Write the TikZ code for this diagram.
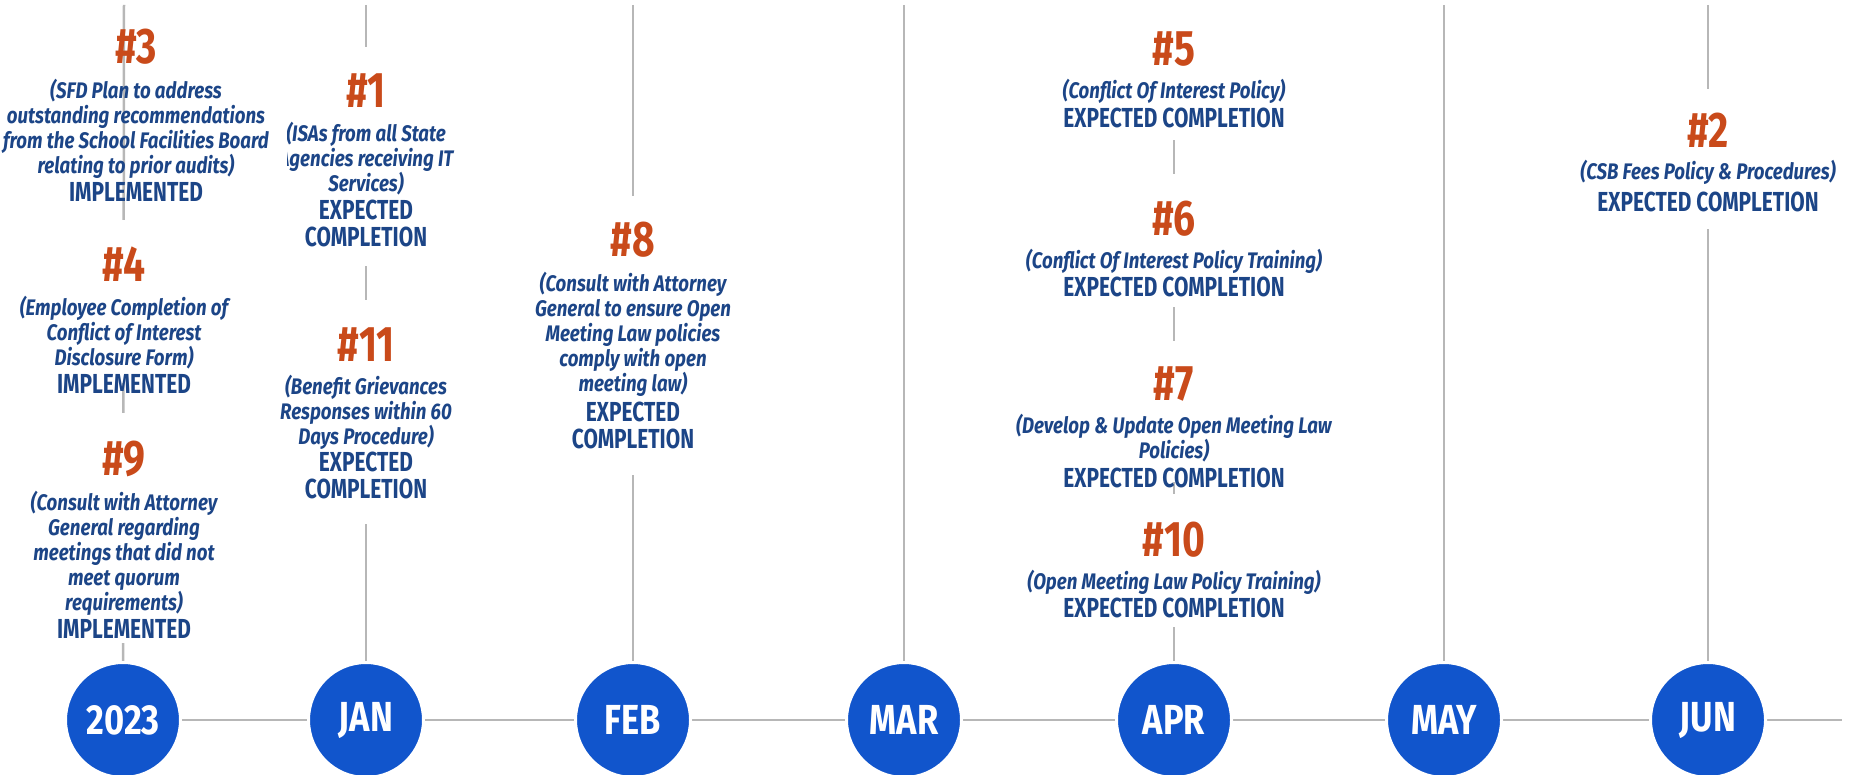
\documentclass[tikz,border=0pt]{standalone}
\usepackage{fontspec}
\setmainfont{Fira Sans}[FakeStretch=0.76]
\newfontfamily\numfont{Fira Sans}[FakeStretch=0.78]
\newfontfamily\descfont{Fira Sans}[FakeStretch=0.83]
\newfontfamily\monthfont{Fira Sans}[FakeStretch=0.82]
\usetikzlibrary{positioning,backgrounds}

\definecolor{numred}{HTML}{C94A1A}
\definecolor{navy}{HTML}{1C4587}
\definecolor{monthblue}{HTML}{1155CC}
\definecolor{rulegray}{HTML}{B7B7B7}

\tikzset{
  num/.style={text=numred, inner sep=0pt, anchor=south, font=\numfont\bfseries\fontsize{50}{50}\selectfont},
  descr/.style={text=navy, inner sep=0pt, align=center, font=\descfont\bfseries\itshape\fontsize{22.5}{25}\selectfont},
  status/.style={text=navy, inner sep=0pt, align=center, font=\bfseries\fontsize{27.5}{27}\selectfont},
  month/.style={circle, fill=monthblue, draw=white, line width=3pt, minimum size=115pt, inner sep=0pt, text=white, font=\monthfont\bfseries\fontsize{42}{42}\selectfont},
  stem/.style={draw=rulegray, line width=2.5pt},
}

\begin{document}
\begin{tikzpicture}[x=1pt, y=-1pt]
\useasboundingbox (0,0) rectangle (1858,775);

% months
\node[month] (y2023) at (123,720) {2023};
\node[month] (jan) at (366,720) {JAN};
\node[month] (feb) at (633,720) {FEB};
\node[month] (mar) at (904,720) {MAR};
\node[month] (apr) at (1174,720) {APR};
\node[month] (may) at (1444,720) {MAY};
\node[month] (jun) at (1708,720) {JUN};
\coordinate (lend) at (64,720);
\coordinate (rend) at (1842,720);

% 2023
\node[num] (n3) at (136,65) {\#3};
\node[descr, below=14pt of n3] (d3) {(SFD Plan to address\\outstanding recommendations\\from the School Facilities Board\\relating to prior audits)};
\node[status, below=3pt of d3] (s3) {IMPLEMENTED};

\node[num] (n4) at (124,282) {\#4};
\node[descr, below=14pt of n4] (d4) {(Employee Completion of\\Conflict of Interest\\Disclosure Form)};
\node[status, below=5pt of d4] (s4) {IMPLEMENTED};

\node[num] (n9) at (124,477) {\#9};
\node[descr, below=14pt of n9] (d9) {(Consult with Attorney\\General regarding\\meetings that did not\\meet quorum\\requirements)};
\node[status, below=3pt of d9] (s9) {IMPLEMENTED};

% JAN
\node[num] (n1) at (366,108) {\#1};
\begin{scope}
\clip (287,100) rectangle (480,260);
\node[descr, below=14pt of n1] (d1) {(ISAs from all State\\Agencies receiving IT\\Services)};
\end{scope}
\node[status, below=4pt of d1] (s1) {EXPECTED\\COMPLETION};

\node[num] (n11) at (366,362) {\#11};
\node[descr, below=13pt of n11] (d11) {(Benefit Grievances\\Responses within 60\\Days Procedure)};
\node[status, below=2pt of d11] (s11) {EXPECTED\\COMPLETION};

% FEB
\node[num] (n8) at (633,258) {\#8};
\node[descr, below=14pt of n8] (d8) {(Consult with Attorney\\General to ensure Open\\Meeting Law policies\\comply with open\\meeting law)};
\node[status, below=5pt of d8] (s8) {EXPECTED\\COMPLETION};

% APR
\node[num] (n5) at (1174,67) {\#5};
\node[descr, below=12pt of n5] (d5) {(Conflict Of Interest Policy)};
\node[status, below=4pt of d5] (s5) {EXPECTED COMPLETION};

\node[num] (n6) at (1174,237) {\#6};
\node[descr, below=12pt of n6] (d6) {(Conflict Of Interest Policy Training)};
\node[status, below=3pt of d6] (s6) {EXPECTED COMPLETION};

\node[num] (n7) at (1174,402) {\#7};
\node[descr, below=12pt of n7] (d7) {(Develop \& Update Open Meeting Law\\Policies)};
\node[status, below=5pt of d7] (s7) {EXPECTED COMPLETION};

\node[num] (n10) at (1174,558) {\#10};
\node[descr, below=12pt of n10] (d10) {(Open Meeting Law Policy Training)};
\node[status, below=3pt of d10] (s10) {EXPECTED COMPLETION};

% JUN
\node[num] (n2) at (1708,148) {\#2};
\node[descr, below=12pt of n2] (d2) {(CSB Fees Policy \& Procedures)};
\node[status, below=7pt of d2] (s2) {EXPECTED COMPLETION};

\begin{pgfonlayer}{background}
  \foreach \m/\x in {y2023/124, jan/366, feb/633, mar/904, apr/1174, may/1444, jun/1708} {
    \coordinate (top\m) at (\x,5);
    \draw[stem] (top\m) -- (\m);
  }
  \foreach \a/\b in {lend/y2023, y2023/jan, jan/feb, feb/mar, mar/apr, apr/may, may/jun, jun/rend}
    \draw[stem] (\a) -- (\b);
  % white boxes behind the text blocks
  \foreach \n/\t/\b in {3/40/21, 4/27/-11, 9/28/5, 1/27/19, 11/28/25, 8/26/26, 5/30/12, 6/27/10, 7/26/-6, 10/28/9, 2/24/17}
    \fill[white] ([xshift=-6pt,yshift=\t pt]n\n.north) rectangle ([xshift=6pt,yshift=-\b pt]s\n.south);
\end{pgfonlayer}

\end{tikzpicture}
\end{document}
